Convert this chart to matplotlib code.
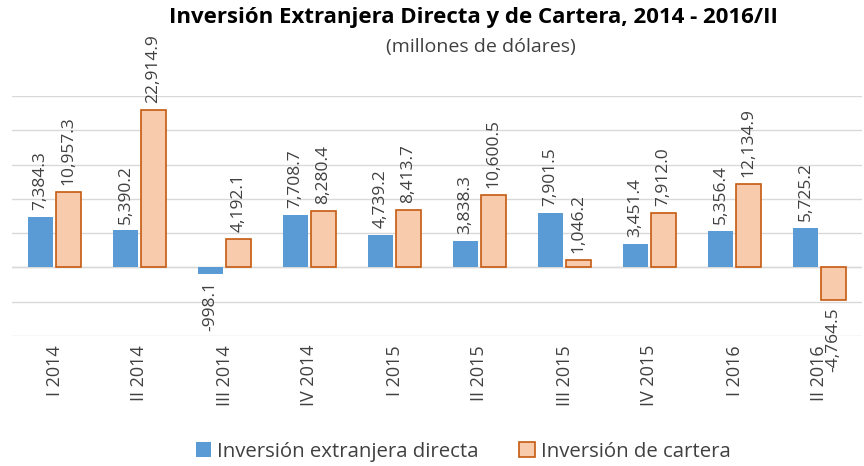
import matplotlib
matplotlib.use("Agg")
import matplotlib.pyplot as plt
import numpy as np

categories = ["I 2014", "II 2014", "III 2014", "IV 2014", "I 2015", "II 2015",
              "III 2015", "IV 2015", "I 2016", "II 2016"]
ied = [7384.3, 5390.2, -998.1, 7708.7, 4739.2, 3838.3, 7901.5, 3451.4, 5356.4, 5725.2]
cartera = [10957.3, 22914.9, 4192.1, 8280.4, 8413.7, 10600.5, 1046.2, 7912.0, 12134.9, -4764.5]
series_names = ["Inversión extranjera directa", "Inversión de cartera"]

plt.rcParams['font.family'] = ['Open Sans', 'DejaVu Sans']

fig = plt.figure(figsize=(8.64, 4.66), dpi=100)
ax = fig.add_axes([12/864, 1-336/466, 850/864, 240/466])

x = np.arange(len(categories))
w = 0.29
off = 0.165
blue = '#5B9BD5'
ofill = '#F8CBAD'
oedge = '#C55A11'

b1 = ax.bar(x - off, ied, width=w, color=blue, label=series_names[0], zorder=3)
b2 = ax.bar(x + off, cartera, width=w, color=ofill, edgecolor=oedge, linewidth=1.2,
            label=series_names[1], zorder=3)

def fmt(v):
    return f"{v:,.1f}"

for bars, vals in ((b1, ied), (b2, cartera)):
    for rect, v in zip(bars, vals):
        cx = rect.get_x() + rect.get_width() / 2
        if v >= 0:
            ax.annotate(fmt(v), (cx, v), xytext=(0, 5), textcoords='offset points',
                        rotation=90, ha='center', va='bottom', fontsize=12.5, color='#404040')
        else:
            ax.annotate(fmt(v), (cx, v), xytext=(0, -5), textcoords='offset points',
                        rotation=90, ha='center', va='top', fontsize=12.5, color='#404040')

ax.set_ylim(-10000, 25000)
ax.set_xlim(-0.5, len(categories) - 0.5)
ax.set_yticks(np.arange(-10000, 25001, 5000))
ax.yaxis.grid(True, color='#D9D9D9', linewidth=1, zorder=0)
ax.set_yticklabels([])
ax.tick_params(axis='y', length=0)
ax.axhline(0, color='#D9D9D9', linewidth=1, zorder=1)
for s in ax.spines.values():
    s.set_visible(False)

ax.set_xticks(x)
ax.set_xticklabels([])
ax.tick_params(axis='x', length=0)
for xi, lab in zip(x, categories):
    ax.text(xi, -11300, lab, rotation=90, ha='center', va='top', fontsize=13,
            color='#404040', clip_on=False)

fig.text(0.548, 1-18/466, "Inversión Extranjera Directa y de Cartera, 2014 - 2016/II",
         ha='center', va='center', fontsize=16, fontweight='bold', color='#000000')
fig.text(0.557, 1-47/466, "(millones de dólares)", ha='center', va='center',
         fontsize=14, color='#404040')

leg = fig.legend(handles=[b1, b2], labels=series_names, loc='center',
                 bbox_to_anchor=(0.536, 1-452/466), ncol=2, frameon=False,
                 fontsize=14.7, handlelength=0.75, handleheight=0.75,
                 handletextpad=0.3, columnspacing=2.0, labelcolor='#404040')

fig.savefig("out.png", dpi=100)
